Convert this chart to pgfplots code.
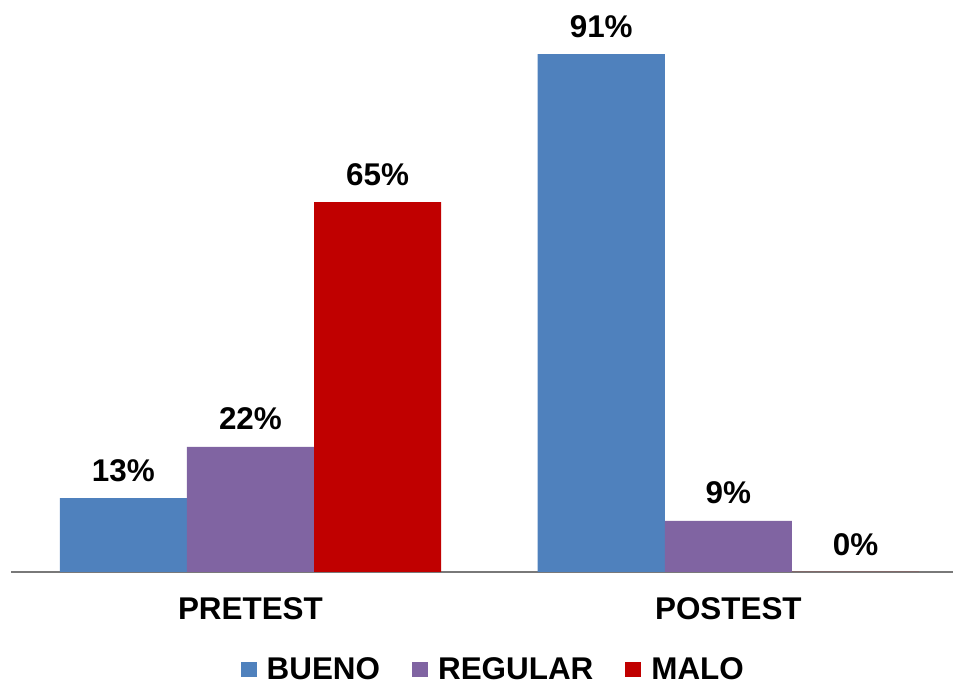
\documentclass[border=0pt]{standalone}
\usepackage{pgfplots}
\pgfplotsset{compat=1.18}
\usepackage{fontspec}
\setmainfont{Liberation Sans}
\definecolor{cB}{HTML}{4F81BD}
\definecolor{cR}{HTML}{8064A2}
\definecolor{cM}{HTML}{C00000}
\newcommand{\bigfont}{\bfseries\fontsize{15.7}{18}\selectfont}
\begin{document}
\begin{tikzpicture}
\begin{axis}[
  at={(0,0)}, anchor=south west,
  scale only axis,
  width=471pt, height=284.5pt,
  xmin=-0.501, xmax=1.470, ymin=0, ymax=100,
  axis y line=none,
  axis x line=bottom,
  x axis line style={-, draw=gray!95!black, line width=1pt},
  xtick={0,1}, xticklabels={PRETEST,POSTEST},
  ytick=\empty,
  major tick length=0pt,
  /pgf/number format/assume math mode=true,
  xticklabel style={font=\bigfont, yshift=-9.3pt},
  ybar, bar width=0.266,
  nodes near coords={\pgfmathprintnumber{\pgfplotspointmeta}\%},
  every node near coord/.append style={font=\bigfont, text=black, yshift=4.8pt},
  legend columns=3,
  legend style={draw=none, fill=none, at={(0.513,0)}, anchor=center, yshift=-48.8pt,
    font=\bigfont,
    /tikz/every odd column/.append style={column sep=3pt},
    /tikz/every even column/.append style={column sep=14pt}},
  legend image code/.code={\fill[#1] (0pt,-3.75pt) rectangle (8pt,3.75pt);},
]
\addplot[fill=cB, draw=none, bar shift=-0.266] coordinates {(0,13) (1,91)};
\addplot[fill=cR, draw=none, bar shift=0] coordinates {(0,22) (1,9)};
\addplot[fill=cM, draw=none, bar shift=0.266] coordinates {(0,65) (1,0)};
\legend{BUENO,REGULAR,MALO}
\end{axis}
\pgfresetboundingbox
\useasboundingbox (-5.5pt,-55.5pt) rectangle (471pt,286pt);
\end{tikzpicture}
\end{document}
